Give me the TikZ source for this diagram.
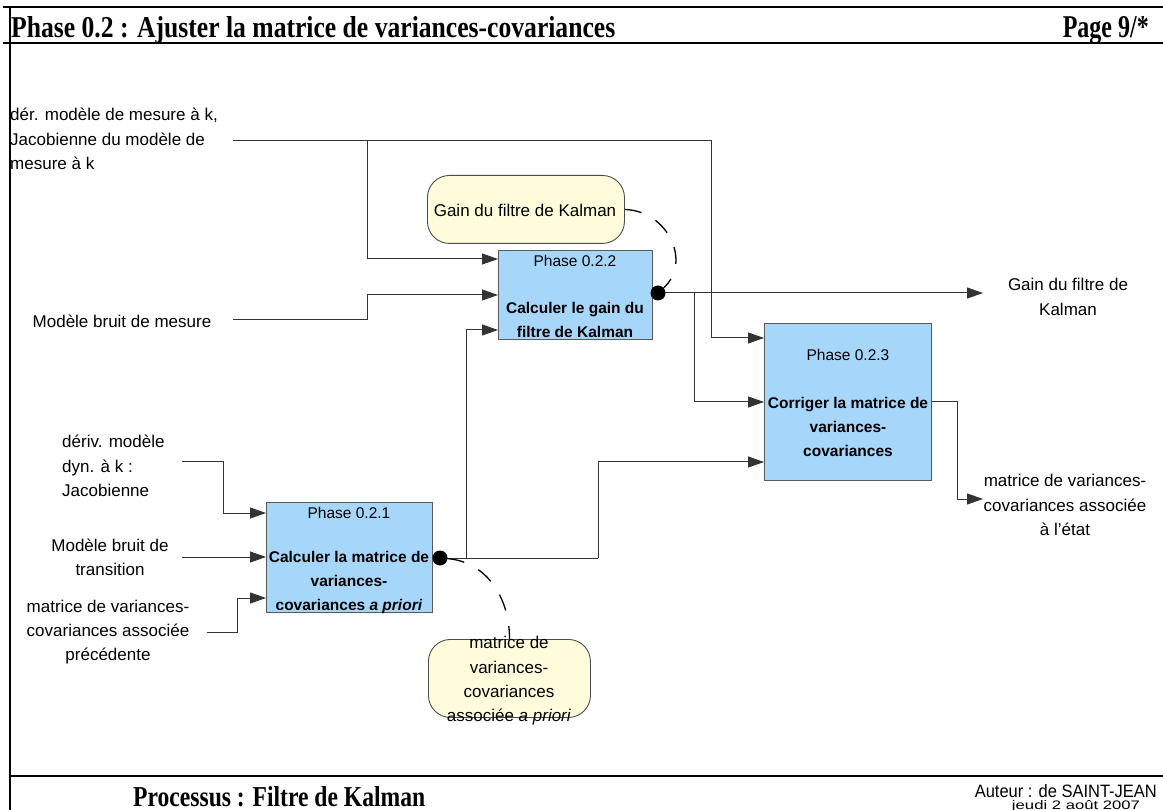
\documentclass[tikz,border=0pt]{standalone}
\usepackage{fontspec}
\setmainfont{Liberation Sans}
\newfontfamily\serifhdr{Liberation Serif}
\usetikzlibrary{arrows.meta,calc}
\begin{document}
\begin{tikzpicture}[x=1pt,y=-1pt,
 frame/.style={line width=2.2pt, draw=black},
 procbox/.style={draw=black!65, line width=0.9pt, fill={rgb,255:red,166;green,214;blue,250}, inner sep=0pt, anchor=north west},
 callout/.style={draw=black!70, line width=0.9pt, fill={rgb,255:red,255;green,252;blue,220}, rounded corners=22pt, inner sep=0pt, anchor=north west},
 lab/.style={font=\fontsize{17}{24.3}\selectfont, align=center, inner sep=0pt},
 boxtxt/.style={font=\fontsize{15.5}{24}\selectfont, align=center, inner sep=0pt},
 boxtxtb/.style={font=\fontsize{15.5}{24}\selectfont\bfseries, align=center, inner sep=0pt},
 conn/.style={draw=black!80, line width=1pt},
 arr/.style={conn, -{Triangle[length=16pt,width=11pt]}},
 dot/.style={circle, fill=black, inner sep=0pt, minimum size=15pt},
 dashc/.style={draw=black, line width=1.3pt, dash pattern=on 17pt off 16pt},
]
\useasboundingbox (0,0) rectangle (1163,810);

% frame
\draw[frame] (3,7) -- (1163,7);
\draw[frame] (3,43) -- (1163,43);
\draw[frame] (10,7) -- (10,810);
\draw[frame] (10,776) -- (1163,776);

% header / footer
\node[anchor=base west, inner sep=0pt] (title) at (11,38) {\resizebox{604pt}{21pt}{\serifhdr\bfseries Phase 0.2 : Ajuster la matrice de variances-covariances}};
\node[anchor=base east, inner sep=0pt] (page) at (1149,38) {\resizebox{86pt}{21pt}{\serifhdr\bfseries Page 9/*}};
\node[anchor=base west, inner sep=0pt] (procname) at (133,806) {\resizebox{292pt}{20pt}{\serifhdr\bfseries Processus : Filtre de Kalman}};
\node[anchor=base east, inner sep=0pt] (author) at (1157,797) {\resizebox{182pt}{13pt}{Auteur : de SAINT-JEAN}};
\node[anchor=base, inner sep=0pt] (date) at (1076,809) {\resizebox{128pt}{9pt}{jeudi 2 août 2007}};

% process boxes
\node[procbox, minimum width=154pt, minimum height=89pt] (b2) at (498,250) {};
\node[procbox, minimum width=167pt, minimum height=157pt] (b3) at (764,323) {};
\node[procbox, minimum width=166pt, minimum height=110pt] (b1) at (266,502) {};

\node[boxtxt] (b2t) at (575,261) {Phase 0.2.2};
\node[boxtxtb] (b2b) at (575,320) {Calculer le gain du\\filtre de Kalman};
\node[boxtxt] (b3t) at (848,355) {Phase 0.2.3};
\node[boxtxtb] (b3b) at (848,427) {Corriger la matrice de\\variances-\\covariances};
\node[boxtxt] (b1t) at (349,513) {Phase 0.2.1};
\node[boxtxtb] (b1b) at (349,582) {Calculer la matrice de\\variances-\\covariances \textit{a priori}};

% callouts
\node[callout, minimum width=197pt, minimum height=68pt] (c1) at (427,175) {};
\node[lab] (c1t) at (525,210) {Gain du filtre de Kalman};
\node[callout, minimum width=162pt, minimum height=78pt] (c2) at (428,639) {};
\node[lab] (c2t) at (509,681) {matrice de\\variances-\\covariances\\associée \textit{a priori}};

% labels
\node[lab, align=left, anchor=west] (l1) at (10,139) {dér. modèle de mesure à k,\\Jacobienne du modèle de\\mesure à k};
\node[lab] (l2) at (122,321) {Modèle bruit de mesure};
\node[lab, align=left, anchor=west] (l3) at (62,466) {dériv. modèle\\dyn. à k :\\Jacobienne};
\node[lab] (l4) at (110,557) {Modèle bruit de\\transition};
\node[lab] (l5) at (108,632) {matrice de variances-\\covariances associée\\précédente};
\node[lab] (r1) at (1068,297) {Gain du filtre de\\Kalman};
\node[lab] (r2) at (1065,505) {matrice de variances-\\covariances associée\\à l'état};

% free ends
\coordinate (in1) at (233,141);
\coordinate (j1) at (367,141);
\coordinate (j2) at (711,141);
\coordinate (in2) at (233,320);
\coordinate (in3) at (182,462);
\coordinate (in4) at (182,557);
\coordinate (in5) at (207,632);
\coordinate (o2) at (983,293);
\coordinate (o3) at (983,499);

% connectors
\draw[arr] (in1) -- (j2) |- ($(b3.north west)+(0,15)$);
\draw[arr] (j1) |- ($(b2.north west)+(0,9)$);
\draw[arr] (in2) -- (367,320) |- ($(b2.north west)+(0,45)$);
\draw[conn] (440,558) -- (598,558);
\draw[arr] (598,558) |- ($(b3.north west)+(0,139)$);
\draw[arr] (466,558) |- ($(b2.north west)+(0,80)$);
\draw[arr] (658,293) -- (o2);
\draw[arr] (694,293) |- ($(b3.north west)+(0,79)$);
\draw[arr] ($(b3.north east)+(0,79)$) -| (957,499) -- (o3);
\draw[arr] (in3) -| (223,513) -- ($(b1.north west)+(0,11)$);
\draw[arr] (in4) -- ($(b1.north west)+(0,55)$);
\draw[arr] (in5) -| (237,598) -- ($(b1.north west)+(0,96)$);

% dots
\node[dot] (d2) at (658,293) {};
\node[dot] (d1) at (440,558) {};

% dashed links
\draw[dashc] (c1.east) .. controls (668,211) and (692,262) .. (d2);
\draw[dashc] (d1) .. controls (488,562) and (510,600) .. (c2.north);
\end{tikzpicture}
\end{document}
